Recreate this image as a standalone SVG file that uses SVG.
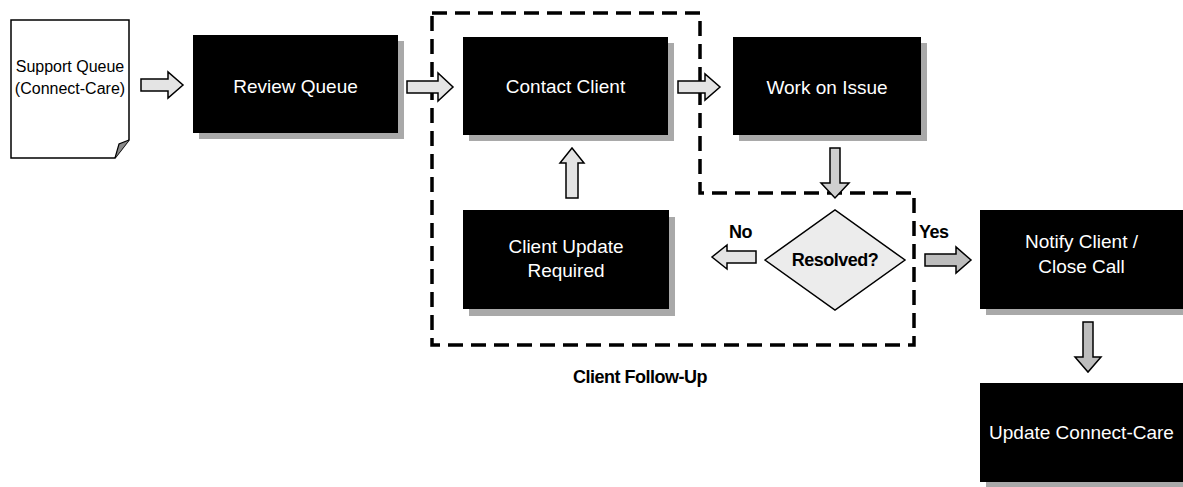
<svg xmlns="http://www.w3.org/2000/svg" width="1183" height="487" viewBox="0 0 1183 487">
<style>
.box{fill:#000}
.shadow{fill:#a9a9a9}
.lbl{font-family:"Liberation Sans",Arial,sans-serif;font-size:19px;fill:#fff;text-anchor:middle}
.doc{font-family:"Liberation Sans",Arial,sans-serif;font-size:16px;fill:#000;text-anchor:middle}
.bold{font-family:"Liberation Sans",Arial,sans-serif;font-weight:bold;font-size:18px;fill:#000;letter-spacing:-0.5px}
.arr{stroke:#000;stroke-width:1.5;stroke-linejoin:miter}
.light{fill:#e4e4e4}
.dark{fill:#bdbdbd}
.mid{fill:#d0d0d0}
.dash{fill:none;stroke:#000;stroke-width:3.5;stroke-dasharray:15 8}
</style>
<rect width="1183" height="487" fill="#fff"/>
<path class="dash" d="M432,13 H700 V193 H914 V345 H432 Z"/>
<g id="support-queue">
<path d="M11,20 H129 V140 L115,158 H11 Z" fill="#fff" stroke="#000" stroke-width="1.5"/>
<path d="M115,158 L119,144 L129,140" fill="#8a8a8a" stroke="#000" stroke-width="1.2"/>
<text class="doc" x="70" y="72">Support Queue</text>
<text class="doc" x="70" y="94">(Connect-Care)</text>
</g>
<g id="review-queue">
<rect class="shadow" x="199" y="41" width="205" height="98"/>
<rect class="box" x="193" y="35" width="205" height="98"/>
<text class="lbl" x="295.5" y="93">Review Queue</text>
</g>
<g id="contact-client">
<rect class="shadow" x="469" y="43" width="205" height="98"/>
<rect class="box" x="463" y="37" width="205" height="98"/>
<text class="lbl" x="565.5" y="93">Contact Client</text>
</g>
<g id="work-on-issue">
<rect class="shadow" x="739" y="43" width="188" height="98"/>
<rect class="box" x="733" y="37" width="188" height="98"/>
<text class="lbl" x="827" y="94">Work on Issue</text>
</g>
<g id="client-update">
<rect class="shadow" x="469" y="217" width="206" height="99"/>
<rect class="box" x="463" y="210" width="206" height="99"/>
<text class="lbl" x="566" y="253">Client Update</text>
<text class="lbl" x="566" y="277">Required</text>
</g>
<g id="resolved">
<path d="M765,260 L835,210 L905,260 L835,310 Z" fill="#ececec" stroke="#000" stroke-width="1.5"/>
<text class="bold" x="835" y="266" text-anchor="middle">Resolved?</text>
</g>
<g id="notify-client">
<rect class="shadow" x="986" y="216" width="205" height="99"/>
<rect class="box" x="980" y="210" width="205" height="99"/>
<text class="lbl" x="1081.5" y="248">Notify Client /</text>
<text class="lbl" x="1081.5" y="273">Close Call</text>
</g>
<g id="update-connect-care">
<rect class="shadow" x="986" y="389" width="205" height="99"/>
<rect class="box" x="980" y="383" width="205" height="99"/>
<text class="lbl" x="1081.5" y="439">Update Connect-Care</text>
</g>
<g id="connectors">
<path class="arr light" d="M141,79 H168 V72 L183,85 L168,98 V91 H141 Z"/>
<path class="arr light" d="M407,81 H438 V73 L453,87 L438,101 V93 H407 Z"/>
<path class="arr light" d="M678,81 H705 V74 L720,87 L705,100 V93 H678 Z"/>
<path class="arr light" d="M566,198 V163 H560 L572,148 L584,163 H578 V198 Z"/>
<path class="arr mid" d="M830,148 V183 H821 L835,198 L849,183 H840 V148 Z"/>
<path class="arr light" d="M756,251 H727 V245 L712,257 L727,269 V263 H756 Z"/>
<path class="arr dark" d="M925,254 H956 V247 L971,260 L956,273 V266 H925 Z"/>
<path class="arr dark" d="M1083,322 V357 H1075 L1088,372 L1101,357 H1093 V322 Z"/>
<text class="bold" x="729" y="238">No</text>
<text class="bold" x="919" y="238">Yes</text>
</g>
<text class="bold" x="573" y="383" font-size="19">Client Follow-Up</text>
</svg>
